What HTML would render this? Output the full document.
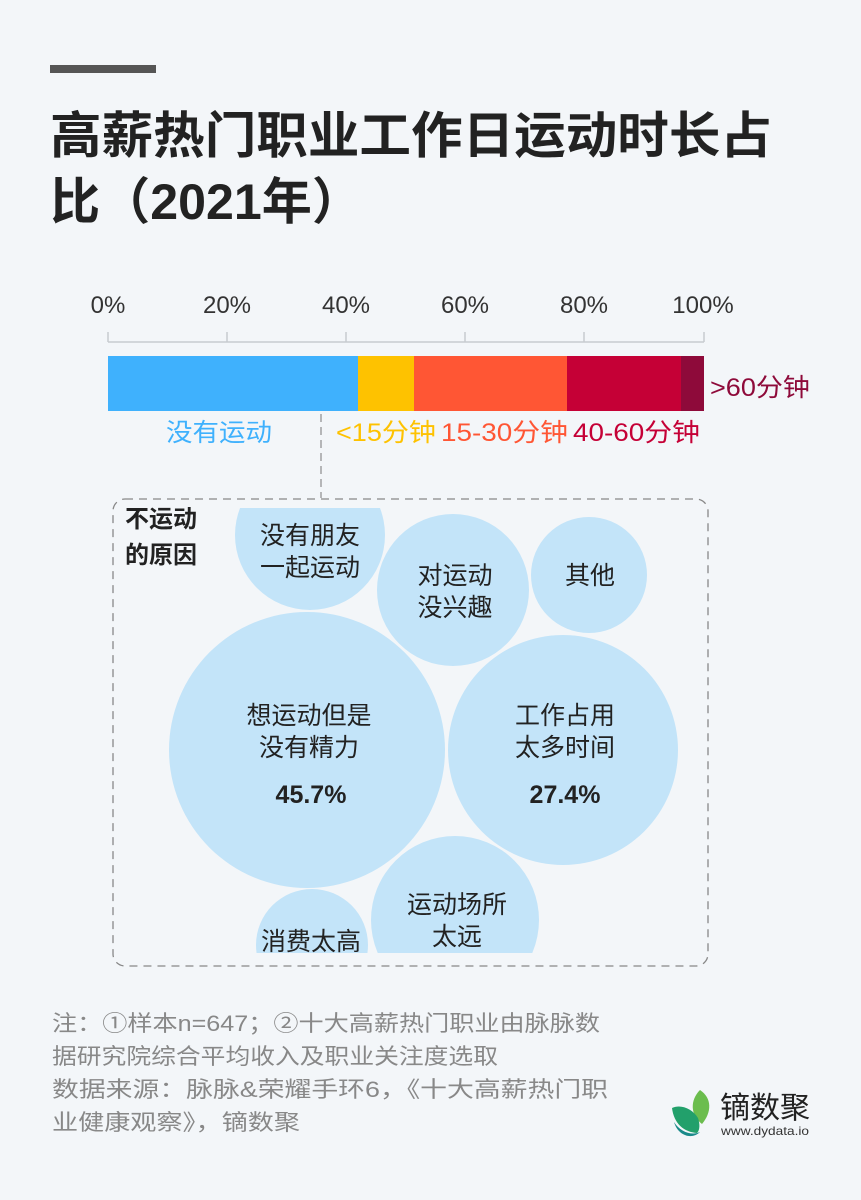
<!DOCTYPE html>
<html><head><meta charset="utf-8"><style>
body{margin:0;width:861px;height:1200px;background:#f3f6f9;font-family:"Liberation Sans","Noto Sans CJK SC",sans-serif;position:relative;overflow:hidden}
.a{position:absolute;white-space:nowrap}
</style></head><body>
<div class="a" style="left:50px;top:65px;width:106px;height:8px;background:#555"></div>
<svg class="a" style="left:0;top:0" width="861" height="1200" font-family="Liberation Sans, Noto Sans CJK SC, sans-serif">
<g font-size="50" font-weight="bold" fill="#222">
<text x="50" y="153" textLength="722" lengthAdjust="spacingAndGlyphs">高薪热门职业工作日运动时长占</text>
<text x="50" y="219" textLength="312" lengthAdjust="spacingAndGlyphs">比（2021年）</text></g>
<g font-size="24" fill="#333" text-anchor="middle">
<text x="108" y="313">0%</text><text x="227" y="313">20%</text><text x="346" y="313">40%</text><text x="465" y="313">60%</text><text x="584" y="313">80%</text><text x="703" y="313">100%</text></g>
<path d="M108 342H704M108 332V342M227 332V342M346 332V342M465 332V342M584 332V342M704 332V342" stroke="#c8cbcf" stroke-width="1.5" fill="none"/>
<rect x="108" y="356" width="250" height="55" fill="#3fb1fd"/>
<rect x="358" y="356" width="56" height="55" fill="#fec200"/>
<rect x="414" y="356" width="153" height="55" fill="#ff5634"/>
<rect x="567" y="356" width="114" height="55" fill="#c50036"/>
<rect x="681" y="356" width="23" height="55" fill="#8e0a3a"/>
<g font-size="25" lengthAdjust="spacingAndGlyphs">
<text x="710" y="396" fill="#8e0a3a" textLength="100" lengthAdjust="spacingAndGlyphs">&gt;60分钟</text>
<text x="166" y="441" fill="#3fb1fd" textLength="106" lengthAdjust="spacingAndGlyphs">没有运动</text>
<text x="336" y="441" fill="#fec200" textLength="100" lengthAdjust="spacingAndGlyphs">&lt;15分钟</text>
<text x="441" y="441" fill="#ff5634" textLength="127" lengthAdjust="spacingAndGlyphs">15-30分钟</text>
<text x="573" y="441" fill="#c50036" textLength="127" lengthAdjust="spacingAndGlyphs">40-60分钟</text></g>
<path d="M321 414V498" stroke="#777" stroke-dasharray="8,5"/>
<rect x="113" y="499" width="595" height="467" rx="12" fill="none" stroke="#888" stroke-dasharray="8,6" stroke-width="1.3"/>
<defs><clipPath id="c"><rect x="113" y="508" width="595" height="445"/></clipPath></defs>
<g clip-path="url(#c)" fill="#c3e4f9">
<circle cx="310" cy="535" r="75"/><circle cx="453" cy="590" r="76"/><circle cx="589" cy="575" r="58"/>
<circle cx="307" cy="750" r="138"/><circle cx="563" cy="750" r="115"/><circle cx="455" cy="920" r="84"/><circle cx="312" cy="945" r="56"/></g>
<g font-size="25" fill="#222" text-anchor="middle">
<text x="310" y="544">没有朋友</text><text x="310" y="576">一起运动</text>
<text x="455" y="584">对运动</text><text x="455" y="616">没兴趣</text>
<text x="590" y="584">其他</text>
<text x="309" y="724">想运动但是</text><text x="309" y="756">没有精力</text>
<text x="311" y="803" font-weight="bold">45.7%</text>
<text x="565" y="724">工作占用</text><text x="565" y="756">太多时间</text>
<text x="565" y="803" font-weight="bold">27.4%</text>
<text x="457" y="913">运动场所</text><text x="457" y="945">太远</text>
<text x="311" y="950">消费太高</text></g>
<g font-size="24" font-weight="bold" fill="#222"><text x="125" y="527">不运动</text><text x="125" y="563">的原因</text></g>
<g font-size="22" fill="#888">
<text x="52" y="1031" textLength="548" lengthAdjust="spacingAndGlyphs">注：①样本n=647；②十大高薪热门职业由脉脉数</text>
<text x="52" y="1064" textLength="446" lengthAdjust="spacingAndGlyphs">据研究院综合平均收入及职业关注度选取</text>
<text x="52" y="1097" textLength="556" lengthAdjust="spacingAndGlyphs">数据来源：脉脉&amp;荣耀手环6，《十大高薪热门职</text>
<text x="52" y="1130" textLength="248" lengthAdjust="spacingAndGlyphs">业健康观察》，镝数聚</text></g>
<path d="M700 1090C690 1100 690 1115 702 1124C712 1112 712 1098 700 1090Z" fill="#6bbd4e"/>
<path d="M672 1108C680 1104 692 1108 698 1118C700 1124 700 1130 697 1133C684 1132 674 1124 672 1108Z" fill="#22a06b"/>
<path d="M674 1122C680 1132 692 1136 700 1132C692 1140 678 1136 674 1122Z" fill="#1a8a8a"/>
<text x="720" y="1118" font-size="30" fill="#222" textLength="90" lengthAdjust="spacingAndGlyphs">镝数聚</text>
<text x="721" y="1135" font-size="12" fill="#333" textLength="88" lengthAdjust="spacingAndGlyphs">www.dydata.io</text>
</svg>
</body></html>
